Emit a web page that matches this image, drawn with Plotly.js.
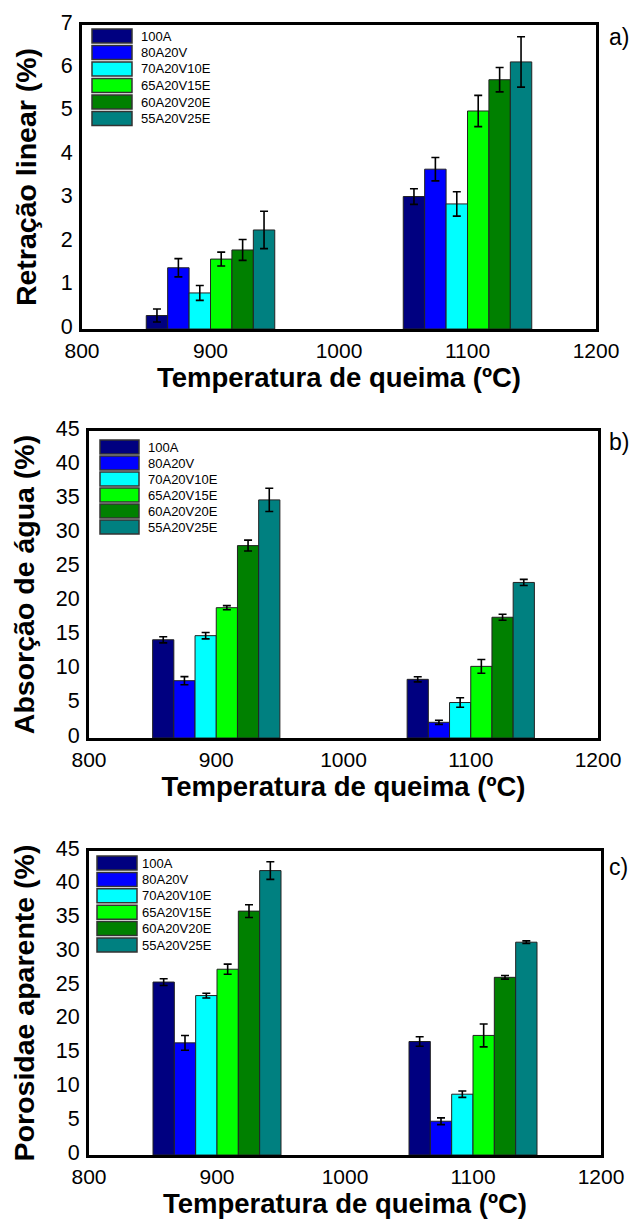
<!DOCTYPE html>
<html>
<head>
<meta charset="utf-8">
<script src="https://cdn.plot.ly/plotly-3.0.1.min.js"></script>
<style>html,body{margin:0;padding:0;background:#fff;}#chart{width:636px;height:1219px;}</style>
</head>
<body>
<div id="chart"></div>
<script>
// ---------- data ----------
const temperatures = [900, 1100];
const seriesNames = ['100A', '80A20V', '70A20V10E', '65A20V15E', '60A20V20E', '55A20V25E'];
const seriesColors = ['#000080', '#0000FF', '#00FFFF', '#00FF00', '#008000', '#008080'];

const retracao900 = [0.31, 1.41, 0.83, 1.61, 1.82, 2.28];
const retracao900Err = [0.15, 0.21, 0.17, 0.16, 0.24, 0.43];
const retracao1100 = [3.05, 3.68, 2.88, 5.02, 5.74, 6.15];
const retracao1100Err = [0.18, 0.27, 0.28, 0.36, 0.28, 0.58];

const absorcao900 = [14.4, 8.4, 15.0, 19.1, 28.2, 34.9];
const absorcao900Err = [0.45, 0.6, 0.47, 0.3, 0.8, 1.7];
const absorcao1100 = [8.6, 2.3, 5.2, 10.5, 17.7, 22.8];
const absorcao1100Err = [0.37, 0.3, 0.7, 1.0, 0.45, 0.45];

const porosidade900 = [25.6, 16.6, 23.6, 27.5, 36.1, 42.1];
const porosidade900Err = [0.5, 1.1, 0.35, 0.75, 0.95, 1.3];
const porosidade1100 = [16.8, 5.0, 9.0, 17.7, 26.3, 31.5];
const porosidade1100Err = [0.7, 0.5, 0.47, 1.7, 0.27, 0.2];

const xTitle = 'Temperatura de queima (ºC)';
const yTitles = ['Retração linear (%)', 'Absorção de água (%)', 'Porosidae aparente (%)'];
const panelLabels = ['a)', 'b)', 'c)'];

// ---------- layout geometry (pixels) ----------
const W = 636, H = 1219;
const fx = p => p / W;
const fy = p => 1 - p / H;
const FONT = 'Liberation Sans, Arial, Helvetica, sans-serif';

const panels = [
  {v: [retracao900, retracao1100], e: [retracao900Err, retracao1100Err], x0: 82, x1: 596, y0: 25, y1: 329, yr: [0, 7], dt: 1,
   leg: {sx0: 92, sx1: 132, tx: 139, cy0: 36, dy: 16.5}, ystand: 16, lab: 37},
  {v: [absorcao900, absorcao1100], e: [absorcao900Err, absorcao1100Err], x0: 89, x1: 598, y0: 431, y1: 738, yr: [0, 45], dt: 5,
   leg: {sx0: 100, sx1: 139, tx: 146, cy0: 447, dy: 16}, ystand: 13, lab: 442},
  {v: [porosidade900, porosidade1100], e: [porosidade900Err, porosidade1100Err], x0: 89, x1: 601, y0: 851, y1: 1155, yr: [0, 45], dt: 5,
   leg: {sx0: 97, sx1: 137, tx: 140, cy0: 863, dy: 16.4}, ystand: 13, lab: 867}
];

const traces = [];
const layout = {
  width: W, height: H,
  margin: {l: 0, r: 0, t: 0, b: 0},
  paper_bgcolor: '#fff', plot_bgcolor: '#fff',
  barmode: 'group', bargap: 0.5, bargroupgap: 0,
  showlegend: false,
  font: {family: FONT, color: '#000'},
  shapes: [], annotations: []
};

panels.forEach((p, k) => {
  const sfx = k === 0 ? '' : String(k + 1);
  const xa = 'x' + sfx, ya = 'y' + sfx;
  seriesNames.forEach((name, i) => {
    traces.push({
      type: 'bar', name: name, xaxis: xa, yaxis: ya,
      x: temperatures,
      y: [p.v[0][i], p.v[1][i]],
      error_y: {type: 'data', array: [p.e[0][i], p.e[1][i]], visible: true, color: '#000', thickness: 1.6, width: 4},
      marker: {color: seriesColors[i], line: {color: '#222', width: 1}},
      showlegend: false, hoverinfo: 'x+y+name'
    });
    // custom legend swatch + label
    const cy = p.leg.cy0 + i * p.leg.dy;
    layout.shapes.push({type: 'rect', xref: 'paper', yref: 'paper',
      x0: fx(p.leg.sx0), x1: fx(p.leg.sx1), y0: fy(cy + 7), y1: fy(cy - 7),
      fillcolor: seriesColors[i], line: {color: '#333', width: 1.5}});
    layout.annotations.push({xref: 'paper', yref: 'paper', x: fx(p.leg.tx), y: fy(cy),
      xanchor: 'left', yanchor: 'middle', text: name, showarrow: false,
      font: {family: FONT, size: 13, color: '#000'}});
  });
  layout['xaxis' + sfx] = {
    domain: [fx(p.x0), fx(p.x1)], anchor: ya, range: [800, 1200], dtick: 100, tick0: 800,
    showline: true, mirror: true, linecolor: '#000', linewidth: 3, ticks: '', showgrid: false, zeroline: false,
    tickfont: {family: FONT, size: 21, color: '#000'}, ticklabelstandoff: 1,
    title: {text: xTitle, standoff: 1, font: {family: FONT, size: 27.5, color: '#000', weight: 'bold'}}
  };
  layout['yaxis' + sfx] = {
    domain: [fy(p.y1), fy(p.y0)], anchor: xa, range: p.yr, dtick: p.dt, tick0: 0,
    showline: true, mirror: true, linecolor: '#000', linewidth: 3, ticks: '', showgrid: false, zeroline: false,
    tickfont: {family: FONT, size: 21.5, color: '#000'}, ticklabelstandoff: 2, ticklabelshift: -3,
    title: {text: yTitles[k], standoff: p.ystand, font: {family: FONT, size: 28.5, color: '#000', weight: 'bold'}}
  };
  layout.annotations.push({xref: 'paper', yref: 'paper', x: fx(607), y: fy(p.lab),
    xanchor: 'left', yanchor: 'middle', text: panelLabels[k], showarrow: false,
    font: {family: FONT, size: 23, color: '#000'}});
});

Plotly.newPlot('chart', traces, layout, {staticPlot: true, displayModeBar: false});
</script>
</body>
</html>
